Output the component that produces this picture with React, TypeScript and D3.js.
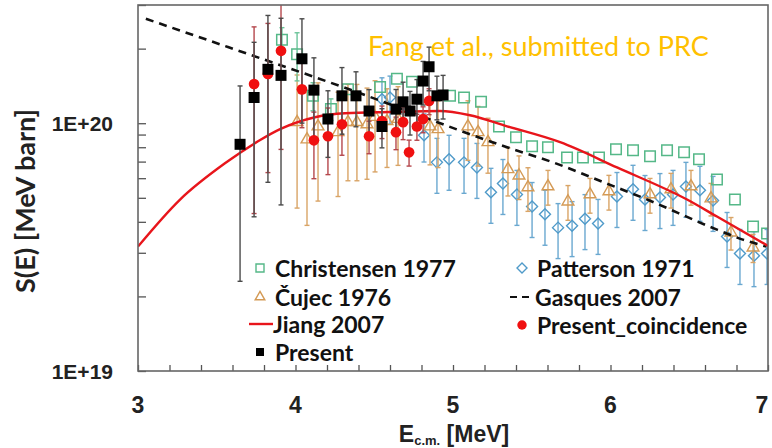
import React, { useEffect, useRef } from 'react';
import * as d3 from 'd3';

// each point: [E c.m. (MeV), S(E) (MeV barn), relative error]
const christensenData = [
    [3.914, 2.17e20, 0.12], [4.010, 1.90e20, 0.22], [4.111, 1.29e20, 0.13], [4.225, 1.14e20, 0.1],
    [4.333, 1.37e20, 0], [4.537, 1.40e20, 0], [4.644, 1.51e20, 0], [4.740, 1.47e20, 0],
    [4.981, 1.29e20, 0], [5.070, 1.27e20, 0], [5.178, 1.22e20, 0], [5.292, 9.7e19, 0],
    [5.400, 8.78e19, 0], [5.502, 8.07e19, 0], [5.603, 8.0e19, 0], [5.724, 7.28e19, 0],
    [5.825, 7.28e19, 0], [5.927, 7.28e19, 0], [6.035, 7.85e19, 0], [6.143, 7.78e19, 0],
    [6.251, 7.35e19, 0], [6.359, 7.78e19, 0], [6.467, 7.63e19, 0], [6.562, 7.15e19, 0],
    [6.676, 5.93e19, 0], [6.790, 4.92e19, 0], [6.905, 3.83e19, 0], [6.994, 3.59e19, 0],
];

const cujecData = [
    [4.010, 1.01e20, 0.55], [4.073, 8.6e19, 0.55], [4.143, 9.7e19, 0.5], [4.270, 9.2e19, 0.45],
    [4.333, 1.01e20, 0.42], [4.390, 1.01e20, 0.42], [4.454, 9.9e19, 0.4], [4.505, 1.06e20, 0.4],
    [4.581, 1.02e20, 0.35], [4.651, 1.04e20, 0.35], [4.854, 9.7e19, 0.3], [4.905, 9.46e19, 0.3],
    [5.095, 9.7e19, 0.27], [5.159, 9.2e19, 0.27], [5.222, 8.38e19, 0.25], [5.349, 6.52e19, 0.22],
    [5.419, 6.15e19, 0.2], [5.476, 5.51e19, 0.2], [5.603, 5.56e19, 0.16], [5.730, 4.83e19, 0.16],
    [5.870, 5.16e19, 0.16], [5.990, 5.31e19, 0.16], [6.251, 5.16e19, 0.16], [6.384, 5.41e19, 0.16],
    [6.511, 5.56e19, 0.16], [6.638, 4.97e19, 0.15], [6.765, 3.62e19, 0.15], [6.905, 3.15e19, 0.13],
];

const pattersonData = [
    [4.549, 1.25e20, 0.22], [4.600, 1.27e20, 0.22], [4.816, 8.94e19, 0.22], [4.898, 6.95e19, 0.25],
    [4.975, 7.15e19, 0.25], [5.070, 6.95e19, 0.25], [5.152, 6.63e19, 0.25], [5.241, 5.26e19, 0.25],
    [5.317, 5.71e19, 0.25], [5.406, 5.16e19, 0.25], [5.502, 4.61e19, 0.25], [5.584, 4.29e19, 0.25],
    [5.667, 3.79e19, 0.25], [5.756, 3.86e19, 0.25], [5.838, 4.12e19, 0.25], [5.921, 3.94e19, 0.25],
    [6.041, 5.06e19, 0.25], [6.143, 5.41e19, 0.25], [6.219, 4.92e19, 0.25], [6.314, 5.01e19, 0.25],
    [6.397, 5.16e19, 0.25], [6.479, 5.56e19, 0.25], [6.568, 5.36e19, 0.25], [6.651, 4.88e19, 0.25],
    [6.740, 3.49e19, 0.25], [6.822, 2.98e19, 0.25], [6.911, 2.92e19, 0.25], [6.994, 2.98e19, 0.25],
];

const presentData = [
    [3.648, 8.22e19, 0.72], [3.737, 1.27e20, 0.67], [3.825, 1.65e20, 0.65], [3.908, 1.56e20, 0.7],
    [4.041, 1.82e20, 0.45], [4.117, 1.36e20, 0.35], [4.206, 1.04e20, 0.3], [4.295, 1.29e20, 0.3],
    [4.384, 1.29e20, 0.25], [4.467, 1.12e20, 0.22], [4.549, 9.7e19, 0.18], [4.638, 1.14e20, 0.2],
    [4.683, 1.22e20, 0.2], [4.727, 1.12e20, 0.2], [4.771, 1.25e20, 0.2], [4.810, 1.48e20, 0.2],
    [4.848, 1.69e20, 0.2], [4.898, 1.29e20, 0.2], [4.937, 1.30e20, 0.2],
];

const coincidenceData = [
    [3.737, 1.44e20, 0.7], [3.825, 1.58e20, 0.6], [3.908, 1.96e20, 0.6], [4.041, 1.37e20, 0.3],
    [4.117, 8.53e19, 0.3], [4.206, 8.86e19, 0.3], [4.295, 9.9e19, 0.25], [4.467, 8.86e19, 0.15],
    [4.549, 1.02e20, 0.15], [4.638, 9.2e19, 0.15], [4.683, 1.01e20, 0.15], [4.721, 7.63e19, 0.12],
    [4.771, 9.7e19, 0.12], [4.810, 1.04e20, 0.12], [4.848, 1.23e20, 0.12],
];

// model curves: [E, S]
const jiangCurve = [
    [3.0, 3.18e19], [3.267, 4.92e19], [3.552, 6.89e19], [3.762, 8.45e19], [3.902, 9.46e19],
    [4.124, 1.057e20], [4.314, 1.097e20], [4.6, 1.11e20], [4.917, 1.12e20], [5.108, 1.077e20],
    [5.343, 9.72e19], [5.68, 8.38e19], [6.041, 6.63e19], [6.486, 4.92e19], [6.676, 4.2e19], [7.0, 3.2e19],
];

const gasquesCurve = [
    [3.05, 2.64e20], [3.571, 2.03e20], [4.30, 1.40e20], [5.343, 8.0e19], [5.635, 6.95e19],
    [6.01, 5.6e19], [6.206, 5.0e19], [6.676, 3.72e19], [6.84, 3.39e19], [6.99, 3.18e19],
];

const xTickLabels = [3, 4, 5, 6, 7];
const xMinorTicks = d3.range(3, 7.001, 0.2);
const yTickLabels = [1e19, 1e20];
const yMinorTicks = [1e19, 2e19, 3e19, 4e19, 5e19, 6e19, 7e19, 8e19, 9e19, 1e20, 2e20, 3e20];

const plot = { left: 138, right: 768, top: 5, bottom: 371 };

const GREEN = '#55b888';
const TAN = '#d49a55';
const BLUE = '#4f9ac9';
const RED = '#e8151b';

function diamond(r) {
    return `M0,${-r}L${r},0L0,${r}L${-r},0Z`;
}

function App() {
    const svgRef = useRef(null);

    useEffect(() => {
        const svg = d3.select(svgRef.current);
        svg.selectAll('*').remove();

        const x = d3.scaleLinear().domain([3, 7]).range([plot.left, plot.right]);
        const y = d3.scaleLog().domain([1e19, 3e20]).range([plot.bottom, plot.top]);

        svg.append('defs').append('clipPath').attr('id', 'plotClip')
            .append('rect')
            .attr('x', plot.left).attr('y', plot.top)
            .attr('width', plot.right - plot.left).attr('height', plot.bottom - plot.top);

        svg.append('rect').attr('width', 772).attr('height', 448).attr('fill', '#fff');

        // ticks (inside the frame)
        const yAxis = svg.append('g')
            .attr('transform', `translate(${plot.left},0)`)
            .call(d3.axisRight(y).tickValues(yMinorTicks).tickSize(8).tickFormat(() => ''));
        yAxis.select('.domain').remove();
        yAxis.selectAll('line').attr('stroke', '#555').attr('stroke-width', 1.3);

        const xAxis = svg.append('g')
            .attr('transform', `translate(0,${plot.bottom})`)
            .call(d3.axisTop(x).tickValues(xMinorTicks).tickSize(6).tickFormat(() => ''));
        xAxis.select('.domain').remove();
        xAxis.selectAll('line').attr('stroke', '#555').attr('stroke-width', 1.3);

        const marks = svg.append('g').attr('clip-path', 'url(#plotClip)');

        const lo = d => y(Math.max(d[1] * (1 - d[2]), 1.02e19));
        const hi = d => y(d[1] * (1 + d[2]));

        const errorBars = (data, color) => {
            const withErr = data.filter(d => d[2] > 0);
            const eg = marks.append('g').attr('stroke', color).attr('stroke-width', 1.4);
            eg.selectAll('line.v').data(withErr).join('line').attr('class', 'v')
                .attr('x1', d => x(d[0])).attr('x2', d => x(d[0]))
                .attr('y1', lo).attr('y2', hi);
            eg.selectAll('line.t').data(withErr).join('line').attr('class', 't')
                .attr('x1', d => x(d[0]) - 2.5).attr('x2', d => x(d[0]) + 2.5)
                .attr('y1', hi).attr('y2', hi);
            eg.selectAll('line.b').data(withErr).join('line').attr('class', 'b')
                .attr('x1', d => x(d[0]) - 2.5).attr('x2', d => x(d[0]) + 2.5)
                .attr('y1', lo).attr('y2', lo);
        };

        const drawPoints = (data, pathStr, fill, stroke, sw) => {
            marks.append('g').selectAll('path').data(data).join('path')
                .attr('transform', d => `translate(${x(d[0])},${y(d[1])})`)
                .attr('d', pathStr)
                .attr('fill', fill)
                .attr('stroke', stroke)
                .attr('stroke-width', sw);
        };

        const sq = (s) => d3.symbol(d3.symbolSquare, s * s)();
        const tri = d3.symbol(d3.symbolTriangle, 60)();
        const circ = d3.symbol(d3.symbolCircle, 90)();

        // Patterson
        errorBars(pattersonData, '#6aa8d0');
        drawPoints(pattersonData, diamond(5.5), 'none', BLUE, 1.4);
        // Cujec
        errorBars(cujecData, '#d9a466');
        drawPoints(cujecData, tri, 'none', TAN, 1.4);
        // Christensen
        errorBars(christensenData, '#6cc49a');
        drawPoints(christensenData, sq(10.5), 'none', GREEN, 1.5);

        const line = d3.line().x(d => x(d[0])).y(d => y(d[1])).curve(d3.curveMonotoneX);

        marks.append('path').datum(gasquesCurve)
            .attr('d', line).attr('fill', 'none')
            .attr('stroke', '#111').attr('stroke-width', 2.6).attr('stroke-dasharray', '8,6');

        marks.append('path').datum(jiangCurve)
            .attr('d', line).attr('fill', 'none')
            .attr('stroke', RED).attr('stroke-width', 2.4);

        // present data
        errorBars(coincidenceData, '#b5474c');
        errorBars(presentData, '#4a4a4a');
        drawPoints(coincidenceData, circ, '#f01010', 'none', 0);
        drawPoints(presentData, sq(11), '#000', 'none', 0);

        // frame
        svg.append('rect')
            .attr('x', plot.left).attr('y', plot.top)
            .attr('width', plot.right - plot.left).attr('height', plot.bottom - plot.top)
            .attr('fill', 'none').attr('stroke', '#666').attr('stroke-width', 1.6);

        // tick labels
        svg.append('g').selectAll('text').data(xTickLabels).join('text')
            .attr('x', d => Math.min(x(d), 762)).attr('y', 413)
            .attr('text-anchor', 'middle')
            .attr('font-family', 'Liberation Sans, Arial, sans-serif')
            .attr('font-weight', 'bold').attr('font-size', 23).attr('fill', '#222')
            .text(d => d);

        svg.append('g').selectAll('text').data(yTickLabels).join('text')
            .attr('x', 113).attr('y', d => y(d) + 7.5)
            .attr('text-anchor', 'end')
            .attr('font-family', 'Liberation Sans, Arial, sans-serif')
            .attr('font-weight', 'bold').attr('font-size', 21).attr('fill', '#222')
            .text(d => d === 1e19 ? '1E+19' : '1E+20');

        // axis titles
        const xt = svg.append('text')
            .attr('x', 454).attr('y', 442)
            .attr('text-anchor', 'middle')
            .attr('font-family', 'Liberation Sans, Arial, sans-serif')
            .attr('font-weight', 'bold').attr('font-size', 23).attr('fill', '#222');
        xt.append('tspan').text('E');
        xt.append('tspan').attr('font-size', 13).attr('dy', 3).text('c.m.');
        xt.append('tspan').attr('dy', -3).text(' [MeV]');

        svg.append('text')
            .attr('transform', 'translate(35,201) rotate(-90)')
            .attr('text-anchor', 'middle')
            .attr('font-family', 'Lato, sans-serif')
            .attr('font-weight', 'bold').attr('font-size', 27).attr('fill', '#222')
            .text('S(E) [MeV barn]');

        // annotation
        svg.append('text')
            .attr('x', 368).attr('y', 56)
            .attr('font-family', 'Lato, sans-serif')
            .attr('font-size', 27).attr('fill', '#ffc000')
            .text('Fang et al., submitted to PRC');

        // legend
        const leg = svg.append('g')
            .attr('font-family', 'Lato, sans-serif')
            .attr('font-weight', 'bold').attr('font-size', 23).attr('fill', '#111');
        const legendItems = [
            { label: 'Christensen 1977', kind: 'sq', x: 260, y: 268 },
            { label: 'Čujec 1976', kind: 'tri', x: 260, y: 297 },
            { label: 'Jiang 2007', kind: 'line', x: 260, y: 324 },
            { label: 'Present', kind: 'fsq', x: 260, y: 352 },
            { label: 'Patterson 1971', kind: 'dia', x: 522, y: 268 },
            { label: 'Gasques 2007', kind: 'dash', x: 522, y: 297 },
            { label: 'Present_coincidence', kind: 'circ', x: 522, y: 325 },
        ];
        legendItems.forEach(it => {
            const m = leg.append('g').attr('transform', `translate(${it.x},${it.y})`);
            if (it.kind === 'sq') m.append('path').attr('d', sq(8)).attr('fill', 'none').attr('stroke', GREEN).attr('stroke-width', 1.4);
            if (it.kind === 'tri') m.append('path').attr('d', d3.symbol(d3.symbolTriangle, 40)()).attr('fill', 'none').attr('stroke', TAN).attr('stroke-width', 1.4);
            if (it.kind === 'dia') m.append('path').attr('d', diamond(5)).attr('fill', 'none').attr('stroke', BLUE).attr('stroke-width', 1.4);
            if (it.kind === 'fsq') m.append('path').attr('d', sq(8)).attr('fill', '#000');
            if (it.kind === 'circ') m.append('path').attr('d', d3.symbol(d3.symbolCircle, 70)()).attr('fill', '#f01010');
            if (it.kind === 'line') m.append('line').attr('x1', -11).attr('x2', 13).attr('stroke', RED).attr('stroke-width', 2.4);
            if (it.kind === 'dash') m.append('line').attr('x1', -12).attr('x2', 11).attr('stroke', '#111').attr('stroke-width', 2).attr('stroke-dasharray', '7,5');
            leg.append('text')
                .attr('x', it.x + (it.kind === 'line' || it.kind === 'dash' ? 13 : 15))
                .attr('y', it.y + 8.5)
                .text(it.label);
        });
    }, []);

    return (
        <svg ref={svgRef} width={772} height={448}
            style={{ position: 'absolute', left: 0, top: 0, display: 'block' }}></svg>
    );
}

export default App;
